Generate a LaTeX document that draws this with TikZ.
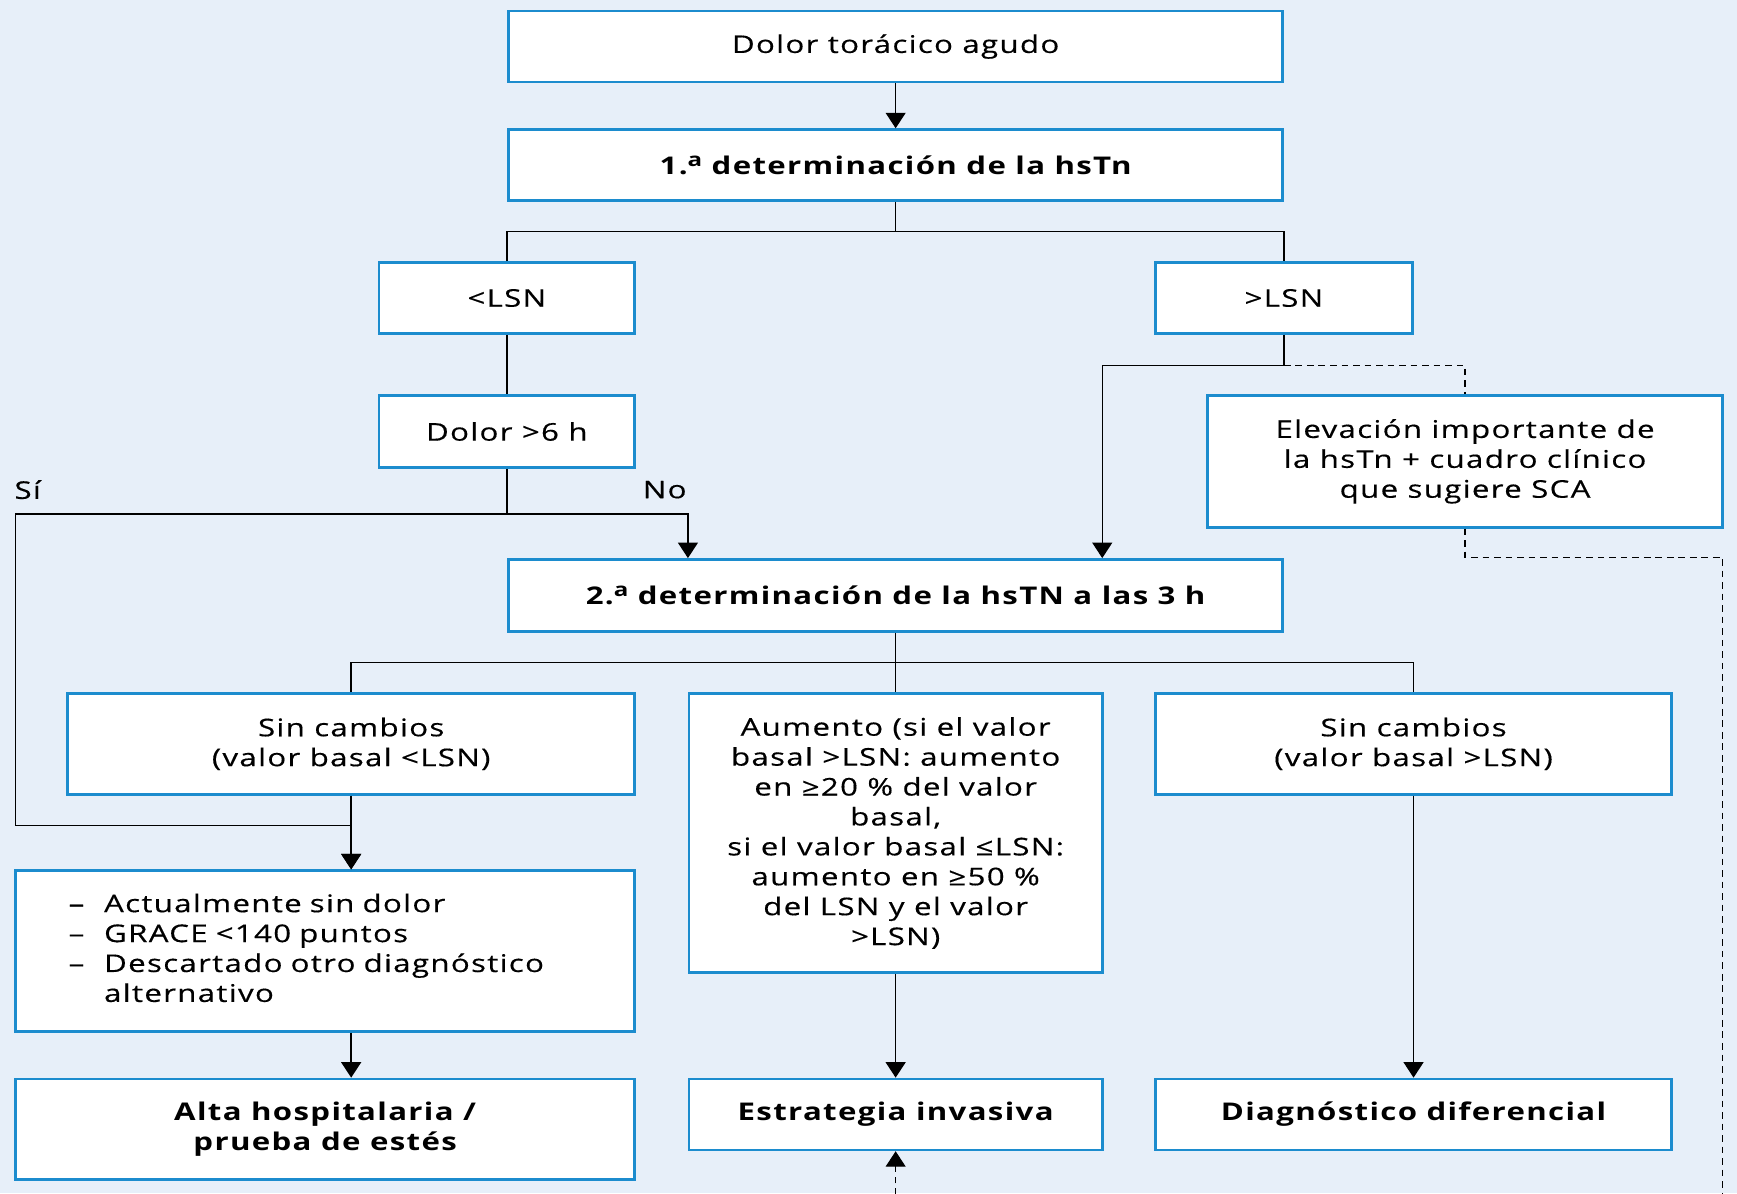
\documentclass[tikz,border=0pt]{standalone}
\usepackage{fontspec}
\setmainfont{Open Sans}[FakeStretch=1.28,LetterSpace=5.5,UprightFeatures={FakeBold=0.4}]
\usetikzlibrary{arrows.meta}
\definecolor{bgblue}{RGB}{231,239,249}
\definecolor{boxblue}{RGB}{28,140,206}
\newcommand{\ordA}{\smash{\raisebox{3.6pt}{\fontsize{8.5}{8.5}\selectfont a}}}
\tikzset{
  box/.style={draw=boxblue, line width=1.2pt, fill=white, align=center, inner sep=2pt,
    font=\fontsize{11}{13.5}\selectfont},
  conn/.style={line width=0.65pt, draw=black},
  arr/.style={conn, -{Triangle[width=9pt,length=7pt]}},
  dconn/.style={line width=0.65pt, draw=black, dash pattern=on 3pt off 2.2pt},
  darr/.style={dconn, -{Triangle[width=9pt,length=7pt]}},
  lbl/.style={font=\fontsize{11}{13.5}\selectfont, inner sep=0pt},
}
\begin{document}
\begin{tikzpicture}[x=0.5pt,y=-0.5pt]
\useasboundingbox (0,0) rectangle (1568,1077);
\clip (0,0) rectangle (1568,1077);
\fill[bgblue] (0,0) rectangle (1568,1077);

\node[box, minimum width=349.5pt, minimum height=32pt] (top) at (808.5,42) {Dolor torácico agudo};
\node[box, minimum width=349.5pt, minimum height=32pt] (det1) at (808.5,149) {\bfseries 1.\ordA\ determinación de la hsTn};
\node[box, minimum width=115.5pt, minimum height=32pt] (lsnlo) at (457.5,269) {<LSN};
\node[box, minimum width=116pt, minimum height=32pt] (lsnhi) at (1159,269) {>LSN};
\node[box, minimum width=115.5pt, minimum height=32.5pt] (dolor6) at (457.5,389.5) {Dolor >6 h};
\node[box, minimum width=232.5pt, minimum height=59.5pt] (elev) at (1322.5,416.5) {Elevación importante de\\la hsTn + cuadro clínico\\que sugiere SCA};
\node[box, minimum width=349.5pt, minimum height=32.5pt] (det2) at (808.5,537.5) {\bfseries 2.\ordA\ determinación de la hsTN a las 3 h};
\node[box, minimum width=256pt, minimum height=45.5pt] (sin1) at (317,671.5) {Sin cambios\\(valor basal <LSN)};
\node[box, minimum width=186.5pt, minimum height=126pt] (aum) at (808.5,752) {Aumento (si el valor\\basal >LSN: aumento\\en ≥20 \% del valor\\basal,\\si el valor basal ≤LSN:\\aumento en ≥50 \%\\del LSN y el valor\\>LSN)};
\node[box, minimum width=233pt, minimum height=45.5pt] (sin2) at (1276,671.5) {Sin cambios\\(valor basal >LSN)};
\node[box, minimum width=279.5pt, minimum height=72.5pt, text width=231.5pt, inner xsep=24pt, align=left] (list) at (293.5,858.5)
  {\begin{tabular}{@{}p{16pt}@{}l@{}}–&Actualmente sin dolor\\–&GRACE <140 puntos\\–&Descartado otro diagnóstico\\&alternativo\end{tabular}};
\node[box, minimum width=279.5pt, minimum height=45.5pt] (alta) at (293.5,1019.5) {\bfseries Alta hospitalaria /\\\bfseries prueba de estés};
\node[box, minimum width=186.5pt, minimum height=32pt] (estr) at (808.5,1006) {\bfseries Estrategia invasiva};
\node[box, minimum width=233pt, minimum height=32pt] (diag) at (1276,1006) {\bfseries Diagnóstico diferencial};

\node[lbl] (lsi) at (25,442) {Sí};
\node[lbl] (lno) at (600,442) {No};

% connectors
\draw[arr] (top.south) -- (det1.north);
\coordinate (b1) at (808.5,209);
\draw[conn] (det1.south) -- (b1);
\draw[conn] (lsnlo.north) |- (b1) -| (lsnhi.north);
\draw[conn] (lsnlo.south) -- (dolor6.north);

\coordinate (j2) at (457.5,464);
\coordinate (si) at (14,464);
\coordinate (no) at (621,464);
\coordinate (sib) at (14,745);
\draw[conn] (dolor6.south) -- (j2);
\draw[arr] (j2) -- (no) -- (no |- det2.north);
\draw[arr] (j2) -- (si) -- (sib) -- (sib -| sin1.south) -- (sin1.south |- list.north);

\coordinate (j3) at (1159,330);
\coordinate (l3) at (995,330);
\draw[conn] (lsnhi.south) -- (j3);
\draw[arr] (j3) -- (l3) -- (l3 |- det2.north);
\draw[dconn] (j3) -| (elev.north);

\coordinate (d1) at (1322.5,503);
\coordinate (d2) at (1555,503);
\coordinate (d3) at (1555,1110);
\coordinate (d4) at (808.5,1110);
\draw[darr] (elev.south) -- (d1) -- (d2) -- (d3) -- (d4) -- (estr.south);

\coordinate (b2) at (808.5,598);
\draw[conn] (det2.south) -- (aum.north);
\draw[conn] (sin1.north) |- (b2) -| (sin2.north);

\draw[arr] (sin1.south) -- (sin1.south |- list.north);
\draw[arr] (sin1.south |- list.south) -- (sin1.south |- alta.north);
\draw[arr] (aum.south) -- (estr.north);
\draw[arr] (sin2.south) -- (diag.north);
\end{tikzpicture}
\end{document}
